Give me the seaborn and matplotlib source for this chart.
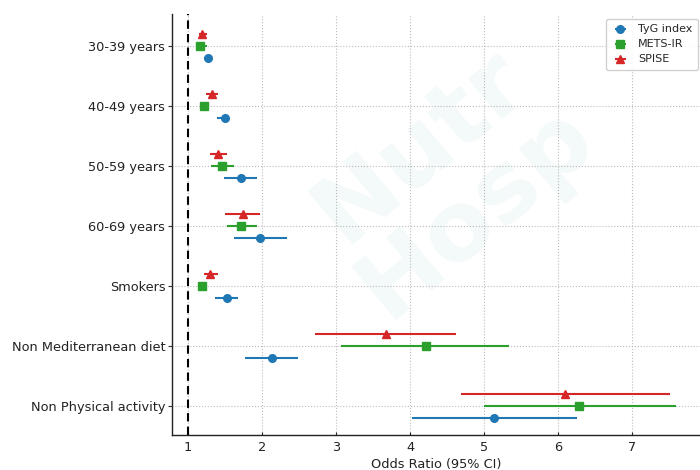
import numpy as np
import pandas as pd
import matplotlib
matplotlib.use("Agg")
import matplotlib.pyplot as plt
import seaborn as sns

# categories, top to bottom
categories = ["30-39 years", "40-49 years", "50-59 years", "60-69 years",
              "Smokers", "Non Mediterranean diet", "Non Physical activity"]

# odds ratios and 95% CI per index
tyg_or = [1.27, 1.50, 1.71, 1.97, 1.53, 2.13, 5.14]
tyg_lo = [1.21, 1.39, 1.48, 1.62, 1.37, 1.77, 4.02]
tyg_hi = [1.31, 1.53, 1.93, 2.34, 1.67, 2.49, 6.26]

mets_or = [1.16, 1.22, 1.46, 1.71, 1.19, 4.21, 6.29]
mets_lo = [1.12, 1.16, 1.31, 1.52, 1.17, 3.07, 5.00]
mets_hi = [1.26, 1.28, 1.62, 1.93, 1.22, 5.34, 7.59]

spise_or = [1.19, 1.32, 1.41, 1.74, 1.30, 3.67, 6.10]
spise_lo = [1.15, 1.24, 1.30, 1.50, 1.21, 2.72, 4.69]
spise_hi = [1.25, 1.41, 1.53, 1.97, 1.41, 4.62, 7.52]

series = [
    ("TyG index", tyg_or, tyg_lo, tyg_hi, "#1f77b4", "o", 0.2),
    ("METS-IR", mets_or, mets_lo, mets_hi, "#2ca02c", "s", 0.0),
    ("SPISE", spise_or, spise_lo, spise_hi, "#d62728", "^", -0.2),
]


def plot_forest():
    sns.set_theme(style="white")
    plt.rcParams["font.family"] = ["DejaVu Sans"]
    fig = plt.figure(figsize=(7, 4.7), dpi=100)
    ax = fig.add_axes([0.246, 0.0745, 0.754, 0.896])

    # faint journal watermark
    fig.text(0.64, 0.62, "Nutr\nHosp", fontsize=70, fontweight="bold",
             color="#2a9d8f", alpha=0.05, rotation=40, linespacing=0.9,
             ha="center", va="center", zorder=0)

    ypos = np.arange(len(categories))
    for name, orv, lo, hi, color, marker, off in series:
        df = pd.DataFrame({"y": ypos + off, "or": orv, "lo": lo, "hi": hi})
        ax.errorbar(df["or"], df["y"],
                    xerr=[df["or"] - df["lo"], df["hi"] - df["or"]],
                    fmt=marker, color=color, ecolor=color, elinewidth=1.5,
                    markersize=5.5, capsize=0, label=name, zorder=3)

    ax.axvline(1, color="black", linestyle=(0, (4, 2.5)), linewidth=1.5,
               zorder=2)

    ax.set_yticks(ypos)
    ax.set_yticklabels(categories, fontsize=9.3, color="#222222")
    ax.set_xticks(range(1, 8))
    ax.tick_params(axis="x", labelsize=9.3, colors="#222222", direction="in",
                   length=2, width=0.8, bottom=True, pad=4)
    ax.tick_params(axis="y", direction="out", length=3, width=0.8,
                   color="#333333", left=True, pad=2)
    ax.set_xlim(0.785, 7.92)
    ax.set_ylim(6.483, -0.533)

    ax.grid(True, linestyle=":", color="#bbbbbb", linewidth=0.8)
    ax.set_axisbelow(True)
    for side in ["top", "right"]:
        ax.spines[side].set_visible(False)
    for side in ["left", "bottom"]:
        ax.spines[side].set_color("#222222")
        ax.spines[side].set_linewidth(1.0)

    ax.set_xlabel("Odds Ratio (95% CI)", fontsize=9.3, color="#222222",
                  labelpad=3)
    ax.set_ylabel("")

    ax.legend(loc="upper left", bbox_to_anchor=(0.822, 0.988),
              borderaxespad=0, fontsize=8,
              frameon=True, framealpha=0.9, edgecolor="#cccccc",
              handlelength=1.6, borderpad=0.5, labelspacing=0.45)

    fig.savefig("out.png", dpi=100)


if __name__ == "__main__":
    plot_forest()
